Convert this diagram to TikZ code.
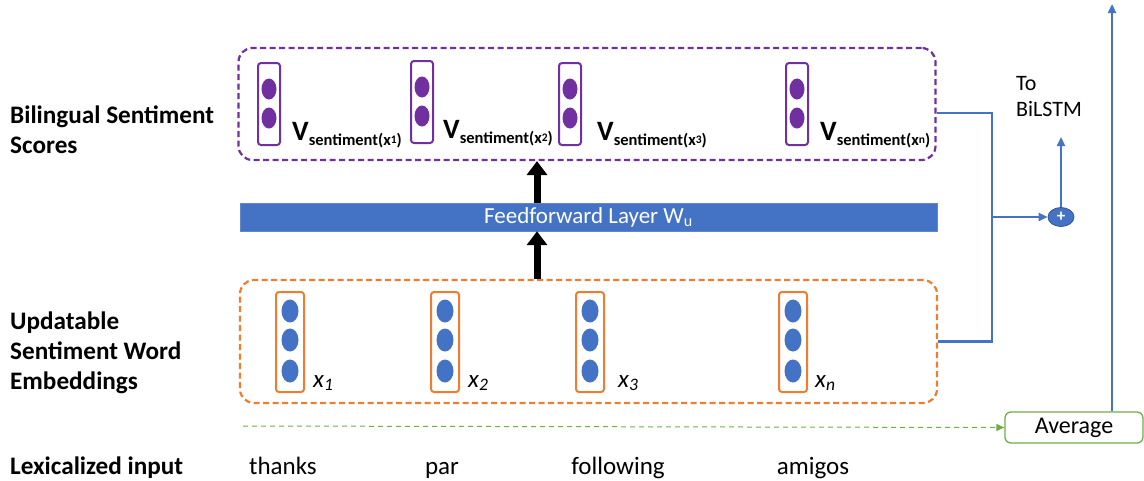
\documentclass[tikz,border=0pt]{standalone}
\usepackage{fontspec}
\setmainfont{Carlito}
\usetikzlibrary{arrows.meta,shapes.geometric}
\definecolor{purp}{HTML}{7030A0}
\definecolor{orng}{HTML}{ED7D31}
\definecolor{blu}{HTML}{4472C4}
\definecolor{grn}{HTML}{70AD47}
\newcommand{\vsent}[1]{\textbf{\fontsize{28}{28}\selectfont V\raisebox{-5pt}{\fontsize{16.5}{16.5}\selectfont sentiment(x{\fontsize{11.5}{11.5}\selectfont\raisebox{1.5pt}{#1}})}}}
\begin{document}
\begin{tikzpicture}[x=1pt,y=-1pt,
    every node/.style={font=\fontsize{25}{30}\selectfont},
    grp/.style={dashed, dash pattern=on 6pt off 3.5pt, line width=2.2pt, rounded corners=14pt,
      minimum width=697, minimum height=#1, inner sep=0},
    pvec/.style={draw=purp, line width=2pt, rounded corners=3pt, minimum width=22, minimum height=82, inner sep=0},
    ovec/.style={draw=orng, line width=2pt, rounded corners=3pt, minimum width=28, minimum height=100, inner sep=0},
    lbl/.style={anchor=north west, align=left, inner sep=0, font=\fontsize{25.2}{30}\selectfont\bfseries},
    word/.style={anchor=base, inner sep=0},
    con/.style={draw=blu, line width=2.2pt},
    tip/.style={-{Triangle[width=8pt,length=9pt]}},
    fat/.style={line width=7pt, -{Triangle[width=20pt,length=14pt]}}]
  \useasboundingbox (0,0) rectangle (1144,480);

  % left labels
  \node[lbl] (lscores) at (10,106) {Bilingual Sentiment\\Scores};
  \node[lbl] (lembed) at (10,312) {Updatable\\Sentiment Word\\Embeddings};
  \node[lbl] (linput) at (10,457) {Lexicalized input};

  % groups and layer
  \node[grp=112, draw=purp] (scores) at (587,104) {};
  \node[grp=123, draw=orng] (emb) at (588.5,341.5) {};
  \node[fill=blu, draw=blu!85!white, minimum width=697, minimum height=28, inner sep=0,
    text=white, font=\fontsize{23}{23}\selectfont] (ff) at (588.5,217) {Feedforward Layer W\textsubscript{u}};

  % sentiment vectors
  \node[pvec] (v1) at (269,104) {};
  \node[pvec] (v2) at (422,102) {};
  \node[pvec] (v3) at (570,104) {};
  \node[pvec] (vn) at (797,104) {};
  \foreach \x/\y in {269/104,422/102,570/104,797/104}{
    \fill[purp] (\x,\y-15) ellipse [x radius=7.5, y radius=10.5];
    \fill[purp] (\x,\y+14) ellipse [x radius=7.5, y radius=10.5];
  }
  \node[anchor=base west, inner sep=0] (s1) at (292,140) {\vsent{1}};
  \node[anchor=base west, inner sep=0] (s2) at (443,138) {\vsent{2}};
  \node[anchor=base west, inner sep=0] (s3) at (597,140) {\vsent{3}};
  \node[anchor=base west, inner sep=0] (sn) at (820,140) {\vsent{n}};

  % word embeddings
  \node[ovec] (e1) at (290,342) {};
  \node[ovec] (e2) at (445,342) {};
  \node[ovec] (e3) at (590,342) {};
  \node[ovec] (en) at (793,342) {};
  \foreach \x in {290,445,590,793}{
    \fill[blu] (\x,311) ellipse [x radius=8.5, y radius=11.5];
    \fill[blu] (\x,340) ellipse [x radius=8.5, y radius=11.5];
    \fill[blu] (\x,371) ellipse [x radius=8.5, y radius=11.5];
  }
  \node[anchor=base west, inner sep=0] (x1) at (313,387) {\itshape x\textsubscript{1}};
  \node[anchor=base west, inner sep=0] (x2) at (468,387) {\itshape x\textsubscript{2}};
  \node[anchor=base west, inner sep=0] (x3) at (618,387) {\itshape x\textsubscript{3}};
  \node[anchor=base west, inner sep=0] (xn) at (815,387) {\itshape x\textsubscript{n}};

  % input words
  \node[word] (w1) at (283,474) {thanks};
  \node[word] (w2) at (442,474) {par};
  \node[word] (w3) at (618,474) {following};
  \node[word] (wn) at (813,474) {amigos};

  % right side
  \node[draw=grn, line width=1.3pt, rounded corners=6pt, minimum width=138, minimum height=31,
    inner sep=0, font=\fontsize{24}{24}\selectfont] (avg) at (1074,427.5) {Average};
  \node[ellipse, fill=blu, draw=blu!75!black, line width=0.8pt, minimum width=26, minimum height=19, inner sep=0,
    text=white, font=\fontsize{17}{17}\selectfont\bfseries] (plus) at (1061,217) {+};
  \node[anchor=north west, align=left, inner sep=0, font=\fontsize{22}{26}\selectfont] (tolstm) at (1016,76) {To\\BiLSTM};
  \coordinate (ax) at (537,0);
  \coordinate (j) at (992,217);
  \coordinate (tob) at (1061,137);
  \coordinate (top) at (1112,4);
  \coordinate (gs) at (243,426);

  \draw[fat] (emb.north -| ax) -- (ff.south -| ax);
  \draw[fat] (ff.north -| ax) -- (scores.south -| ax);
  \draw[con] ([yshift=-9pt]scores.east) -| (j);
  \draw[con] (emb.east) -| (j);
  \draw[con,tip] (j) -- (plus);
  \draw[con,tip] (plus) -- (tob);
  \draw[con,tip] (avg.north -| top) -- (top);
  \draw[grn, dash pattern=on 5pt off 4pt, line width=1pt, -{Triangle[width=7pt,length=8pt]}] (gs) -- (avg.west);
\end{tikzpicture}
\end{document}
